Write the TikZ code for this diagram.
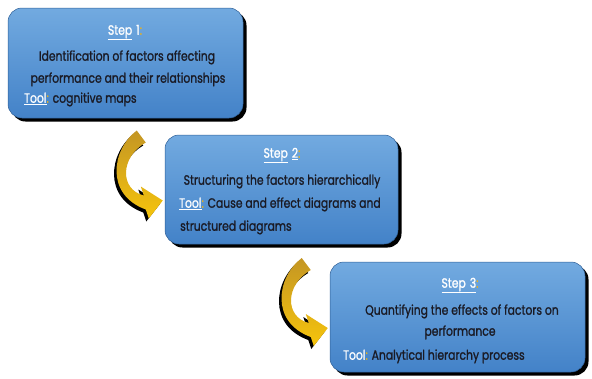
\documentclass[tikz,border=0pt]{standalone}
\usepackage{fontspec}
\setmainfont{Poppins}[FakeStretch=0.8, FakeBold=1.2]
\usetikzlibrary{shadows,calc}

\definecolor{boxtop}{HTML}{72AAE0}
\definecolor{boxbot}{HTML}{4382C8}
\definecolor{boxline}{HTML}{2F5F96}
\definecolor{ink}{HTML}{1A1A24}
\definecolor{gold}{HTML}{E0B02A}
\definecolor{arrowtop}{HTML}{C49624}
\definecolor{arrowbot}{HTML}{F6C40C}

\newcommand\gc{\textcolor{gold}{:}}
\newcommand\hl[1]{\textcolor{white}{\underline{#1}}}

\tikzset{
  stepbox/.style={rectangle, rounded corners=14pt, inner sep=0pt,
    top color=boxtop, bottom color=boxbot, draw=boxline, line width=0.5pt,
    general shadow={fill=black, shadow xshift=3.5pt, shadow yshift=-3.5pt}},
  txt/.style={text=ink, font=\fontsize{13.5}{16}\selectfont, inner sep=0pt, anchor=mid},
  txtl/.style={txt, anchor=mid west},
  % curved gold arrow; the local origin is the arrow tip
  curl/.pic={
    \def\curlpath{(-25,-70) .. controls (-50,-51) and (-57,-6) .. (-16,9)
      -- (-13,18) -- (1,0) -- (-21,-14) -- (-18,-5)
      .. controls (-42,-11) and (-42,-43) .. (-16,-58) -- cycle}
    \fill[black] [shift={(-2.5,3)}] \curlpath;
    \shade[top color=arrowtop, bottom color=arrowbot] \curlpath;
  }
}

\begin{document}
\begin{tikzpicture}[x=1pt, y=-1pt]
\useasboundingbox (0,0) rectangle (592,378);

% step boxes
\node[stepbox, minimum width=235pt, minimum height=110pt] (s1) at (125.5,63) {};
\node[stepbox, minimum width=233pt, minimum height=109pt] (s2) at (281.5,189.5) {};
\node[stepbox, minimum width=255pt, minimum height=110pt] (s3) at (457.5,317) {};

% texts of step 1
\node[txt] (s1h) at (125,32) {\hl{Step}\hspace{0.3em}\textcolor{white}{1}\gc};
\node[txt] (s1a) at (127,58) {Identification of factors affecting};
\node[txt] (s1b) at (128,80) {performance and their relationships};
\node[txtl] (s1t) at (24,100) {\hl{Tool}\gc{} cognitive maps};

% texts of step 2
\node[txt] (s2h) at (282,155) {\hl{Step}\hspace{0.3em}\hl{2}\gc};
\node[txt] (s2a) at (282,182) {Structuring the factors hierarchically};
\node[txtl] (s2t) at (179,205) {\hl{Tool}\gc{} Cause and effect diagrams and};
\node[txtl] (s2u) at (180,228) {structured diagrams};

% texts of step 3
\node[txt] (s3h) at (460,285) {\hl{Step\hspace{0.3em}3}\gc};
\node[txt] (s3a) at (462,312) {Quantifying the effects of factors on};
\node[txt] (s3b) at (460,333) {performance};
\node[txtl] (s3t) at (343,357) {\textcolor{white}{Tool}\gc{} Analytical hierarchy process};

% connecting arrows, tips resting on the left edges of the next boxes
\pic at ($(s2.west)+(-3,11)$) {curl};
\pic at ($(s3.west)+(-3,11)$) {curl};
\end{tikzpicture}
\end{document}
